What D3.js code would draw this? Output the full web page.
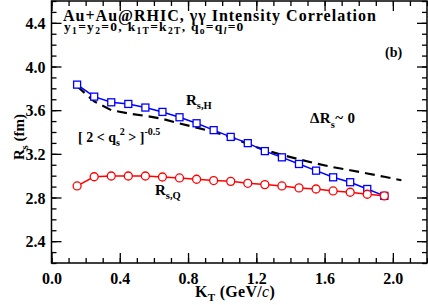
<!DOCTYPE html>
<html>
<head>
<meta charset="utf-8">
<script src="https://cdn.jsdelivr.net/npm/d3@7"></script>
<style>
  body { margin: 0; background: #fff; }
  svg text { font-family: "Liberation Serif", "Times New Roman", serif; font-weight: bold; }
</style>
</head>
<body>
<div id="chart"></div>
<script>
// K_T values (GeV/c)
var ktPoints = [0.15, 0.25, 0.35, 0.45, 0.55, 0.65, 0.75, 0.85, 0.95, 1.05,
                1.15, 1.25, 1.35, 1.45, 1.55, 1.65, 1.75, 1.85, 1.95];
var rsH = [3.834, 3.724, 3.672, 3.657, 3.624, 3.584, 3.535, 3.48, 3.417, 3.355,
           3.298, 3.225, 3.168, 3.107, 3.046, 2.985, 2.94, 2.878, 2.815];
var rsQ = [2.906, 2.99, 2.997, 2.997, 2.997, 2.988, 2.979, 2.967, 2.955, 2.948,
           2.93, 2.918, 2.906, 2.888, 2.878, 2.86, 2.848, 2.83, 2.815];
var ktDash = [0.15, 0.25, 0.35, 0.45, 0.55, 0.65, 0.75, 0.85, 0.95, 1.05,
              1.15, 1.25, 1.35, 1.45, 1.55, 1.65, 1.75, 1.85, 1.95, 2.05];
var rsDash = [3.82, 3.68, 3.60, 3.57, 3.548, 3.52, 3.478, 3.44, 3.40, 3.355,
              3.29, 3.235, 3.19, 3.15, 3.112, 3.078, 3.05, 3.02, 2.99, 2.958];
var xTicks = [0.0, 0.4, 0.8, 1.2, 1.6, 2.0];
var yTicks = [2.4, 2.8, 3.2, 3.6, 4.0, 4.4];

var width = 428, height = 305;
var plotLeft = 51.5, plotRight = 427, plotTop = 1, plotBottom = 263;
var serif = '"Liberation Serif", "Times New Roman", serif';

var svg = d3.select('#chart').append('svg')
    .attr('width', width).attr('height', height);

var x = d3.scaleLinear().domain([0, 2.2]).range([plotLeft, plotRight]);
var y = d3.scaleLinear().domain([2.2, 4.6]).range([plotBottom, plotTop]);

function minor(lo, hi) { return d3.range(lo, hi + 0.0001, 0.1); }
var xMinor = minor(0, 2.2);
var yMinor = minor(2.2, 4.6);

// axes with inward ticks on all four sides
function addAxis(axisFn, scale, minorVals, tr, major, labels) {
    var gMinor = svg.append('g').attr('transform', tr)
        .call(axisFn(scale).tickValues(minorVals).tickSize(-5).tickFormat(''));
    gMinor.select('.domain').remove();
    gMinor.selectAll('line').attr('stroke', '#000').attr('stroke-width', 1.3);
    var g = svg.append('g').attr('transform', tr)
        .call(axisFn(scale).tickValues(major).tickSize(-10).tickPadding(labels ? 14 : 0)
              .tickFormat(labels ? d3.format('.1f') : ''));
    g.attr('font-family', serif).attr('font-size', 16).attr('font-weight', 'bold');
    g.select('.domain').remove();
    g.selectAll('line').attr('stroke', '#000').attr('stroke-width', 1.3);
    g.selectAll('text').attr('fill', '#000')
        .style('font-family', serif).style('font-size', '16px').style('font-weight', 'bold');
    return g;
}

var gb = addAxis(d3.axisBottom, x, xMinor, 'translate(0,' + plotBottom + ')', xTicks, true);
gb.selectAll('text').attr('y', 8).attr('dy', '0.8em');
addAxis(d3.axisTop, x, xMinor, 'translate(0,' + plotTop + ')', xTicks, false);
var gl = addAxis(d3.axisLeft, y, yMinor, 'translate(' + plotLeft + ',0)', yTicks, true);
gl.selectAll('text').attr('x', -6).attr('dy', '0.35em');
addAxis(d3.axisRight, y, yMinor, 'translate(' + plotRight + ',0)', yTicks, false);

// frame
svg.append('rect')
    .attr('x', plotLeft).attr('y', plotTop)
    .attr('width', plotRight - plotLeft).attr('height', plotBottom - plotTop)
    .attr('fill', 'none').attr('stroke', '#000').attr('stroke-width', 1.5);

var line = d3.line().x(function(d) { return x(d[0]); }).y(function(d) { return y(d[1]); });

// dashed approximation
svg.append('path')
    .datum(d3.zip(ktDash, rsDash))
    .attr('d', line)
    .attr('fill', 'none').attr('stroke', '#000')
    .attr('stroke-width', 2.2).attr('stroke-dasharray', '10,6');

// R_s,H (blue squares)
var hData = d3.zip(ktPoints, rsH);
svg.append('path').datum(hData).attr('d', line)
    .attr('fill', 'none').attr('stroke', '#0000ff').attr('stroke-width', 1.5);
svg.selectAll('.sq').data(hData).enter().append('rect')
    .attr('class', 'sq')
    .attr('x', function(d) { return x(d[0]) - 3.5; })
    .attr('y', function(d) { return y(d[1]) - 3.5; })
    .attr('width', 7).attr('height', 7)
    .attr('fill', '#fff').attr('stroke', '#0000ff').attr('stroke-width', 1.3);

// R_s,Q (red circles)
var qData = d3.zip(ktPoints, rsQ);
svg.append('path').datum(qData).attr('d', line)
    .attr('fill', 'none').attr('stroke', '#ff0000').attr('stroke-width', 1.5);
svg.selectAll('.ci').data(qData).enter().append('circle')
    .attr('class', 'ci')
    .attr('cx', function(d) { return x(d[0]); })
    .attr('cy', function(d) { return y(d[1]); })
    .attr('r', 4)
    .attr('fill', '#fff').attr('stroke', '#ff0000').attr('stroke-width', 1.3);

// text helper: parts = [text, dy, size, italic, bold]
function rich(xp, yp, size, parts, rotate, spacing) {
    var t = svg.append('text').attr('x', xp).attr('y', yp)
        .style('font-size', size + 'px').attr('fill', '#000');
    if (spacing) t.style('letter-spacing', spacing + 'px');
    if (rotate) t.attr('transform', 'rotate(-90,' + xp + ',' + yp + ')');
    parts.forEach(function(p) {
        var s = t.append('tspan').text(p[0]);
        if (p[1]) s.attr('dy', p[1]);
        if (p[2]) s.style('font-size', p[2] + 'px');
        if (p[3]) s.style('font-style', 'italic');
        if (p[4] === false) s.style('font-weight', 'normal');
    });
    return t;
}

rich(63, 21, 16, [['Au+Au@RHIC, \u03b3\u03b3  Intensity Correlation']], false, 1.0);
rich(64, 31, 13.5, [
    ['y'], ['1', 3, 9.5], ['=y', -3, 13.5], ['2', 3, 9.5], ['=0,  k', -3, 13.5],
    ['1T', 3, 9.5], ['=k', -3, 13.5], ['2T', 3, 9.5], [', q', -3, 13.5], ['o', 3, 9.5],
    ['=q', -3, 13.5], ['l', 3, 9.5, true], ['=0', -3, 13.5]
], false, 1.3);
rich(385, 57, 14, [['(b)']]);
rich(186, 105, 15, [['R'], ['s,H', 4, 10.5]]);
rich(310, 123, 15, [['\u0394R'], ['s', 5, 10.5], ['~ 0', -5, 15]], false, 0.3);
rich(78, 142, 14, [['[ 2 < q'], ['s', 4, 10], ['2', -11, 10], [' > ]', 7, 14], ['-0.5', -7, 10]]);
rich(155, 195, 15, [['R'], ['s,Q', 4, 10.5]]);

// axis titles
rich(195, 297, 16, [['K'], ['T', 4, 11], [' (GeV/', -4, 16], ['c', 0, 16, true, false], [')', 0, 16]], false, 0.3);
rich(24, 160, 15, [['R'], ['s', 4, 10], [' (fm)', -4, 15]], true);
</script>
</body>
</html>
